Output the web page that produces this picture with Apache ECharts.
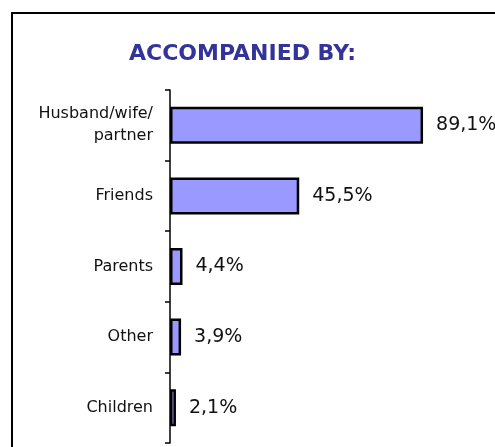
<!DOCTYPE html>
<html>
<head>
<meta charset="utf-8">
<script src="https://cdn.jsdelivr.net/npm/echarts@6/dist/echarts.min.js"></script>
<style>
html,body{margin:0;padding:0;background:#fff;}
#chart{width:495px;height:447px;}
</style>
</head>
<body>
<div id="chart"></div>
<script>
var titleText = 'ACCOMPANIED BY:';
var categories = ['Husband/wife/\npartner', 'Friends', 'Parents', 'Other', 'Children'];
var values = [89.1, 45.5, 4.4, 3.9, 2.1];
var valueLabels = ['89,1%', '45,5%', '4,4%', '3,9%', '2,1%'];

var chart = echarts.init(document.getElementById('chart'), null, {renderer: 'canvas'});
chart.setOption({
  animation: false,
  backgroundColor: '#ffffff',
  title: {
    text: titleText,
    left: 237.5,
    textAlign: 'center',
    top: 38,
    textStyle: {
      fontFamily: 'DejaVu Sans',
      fontWeight: 'bold',
      fontSize: 22,
      color: '#333399'
    }
  },
  graphic: [{
    type: 'rect',
    shape: {x: 12, y: 13, width: 520, height: 480},
    style: {fill: 'none', stroke: '#000', lineWidth: 2},
    silent: true
  }],
  grid: {left: 170, top: 90, bottom: 4, right: 41},
  xAxis: {
    type: 'value',
    min: 0,
    max: 100,
    show: false,
    splitLine: {show: false}
  },
  yAxis: {
    type: 'category',
    data: categories,
    inverse: true,
    axisLine: {show: true, lineStyle: {color: '#000', width: 1.5}},
    axisTick: {show: true, inside: false, length: 5, lineStyle: {color: '#000', width: 1.5}},
    axisLabel: {
      margin: 17,
      fontFamily: 'DejaVu Sans',
      fontSize: 16,
      lineHeight: 22,
      color: '#111',
      align: 'right'
    }
  },
  series: [{
    type: 'bar',
    data: values,
    barWidth: 37,
    itemStyle: {color: '#9999ff', borderColor: '#000', borderWidth: 2.5},
    label: {
      show: true,
      position: 'right',
      distance: 13,
      fontFamily: 'DejaVu Sans',
      fontSize: 19,
      color: '#111',
      formatter: function (p) { return valueLabels[p.dataIndex]; }
    }
  }]
});
</script>
</body>
</html>
